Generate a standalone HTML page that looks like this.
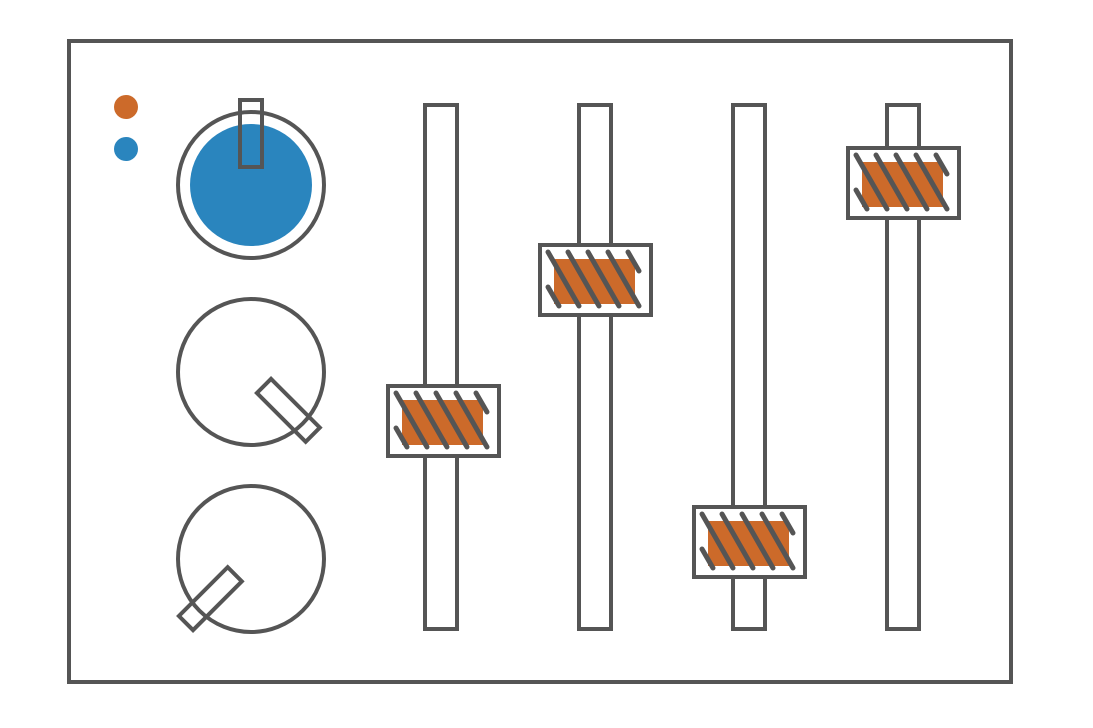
<!DOCTYPE html>
<html><head><meta charset="utf-8"><style>body{margin:0;background:#fff}svg{display:block}</style></head>
<body>
<svg width="1093" height="728" viewBox="0 0 1093 728" xmlns="http://www.w3.org/2000/svg">
<defs>
<g id="h">
<rect x="0" y="0" width="111" height="70" fill="#fff" stroke="#555" stroke-width="4"/>
<rect x="14" y="14" width="81" height="45" fill="#cc6a2a"/>
<g stroke="#555" stroke-width="5" stroke-linecap="round">
<line x1="8" y1="42" x2="19" y2="61"/>
<line x1="8" y1="7" x2="39" y2="61"/>
<line x1="28" y1="7" x2="59" y2="61"/>
<line x1="48" y1="7" x2="79" y2="61"/>
<line x1="68" y1="7" x2="99" y2="61"/>
<line x1="88" y1="7" x2="99" y2="26"/>
</g>
</g>
</defs>
<rect x="69" y="41" width="942" height="641" fill="none" stroke="#555" stroke-width="4"/>
<circle cx="126" cy="107" r="12" fill="#cc6a2a"/>
<circle cx="126" cy="149" r="12" fill="#2a85be"/>
<circle cx="251" cy="185" r="73" fill="none" stroke="#555" stroke-width="4"/>
<circle cx="251" cy="185" r="61" fill="#2a85be"/>
<rect x="240" y="100" width="22" height="67" fill="none" stroke="#555" stroke-width="4"/>
<circle cx="251" cy="372" r="73" fill="none" stroke="#555" stroke-width="4"/>
<rect x="254" y="400" width="69" height="20" fill="none" stroke="#555" stroke-width="4" transform="rotate(45 288 410)"/>
<circle cx="251" cy="559" r="73" fill="none" stroke="#555" stroke-width="4"/>
<rect x="176" y="589" width="69" height="20" fill="none" stroke="#555" stroke-width="4" transform="rotate(-45 210 599)"/>
<g fill="#fff" stroke="#555" stroke-width="4">
<rect x="425" y="105" width="32" height="524"/>
<rect x="579" y="105" width="32" height="524"/>
<rect x="733" y="105" width="32" height="524"/>
<rect x="887" y="105" width="32" height="524"/>
</g>
<use href="#h" x="388" y="386"/>
<use href="#h" x="540" y="245"/>
<use href="#h" x="694" y="507"/>
<use href="#h" x="848" y="148"/>
</svg>
</body></html>
